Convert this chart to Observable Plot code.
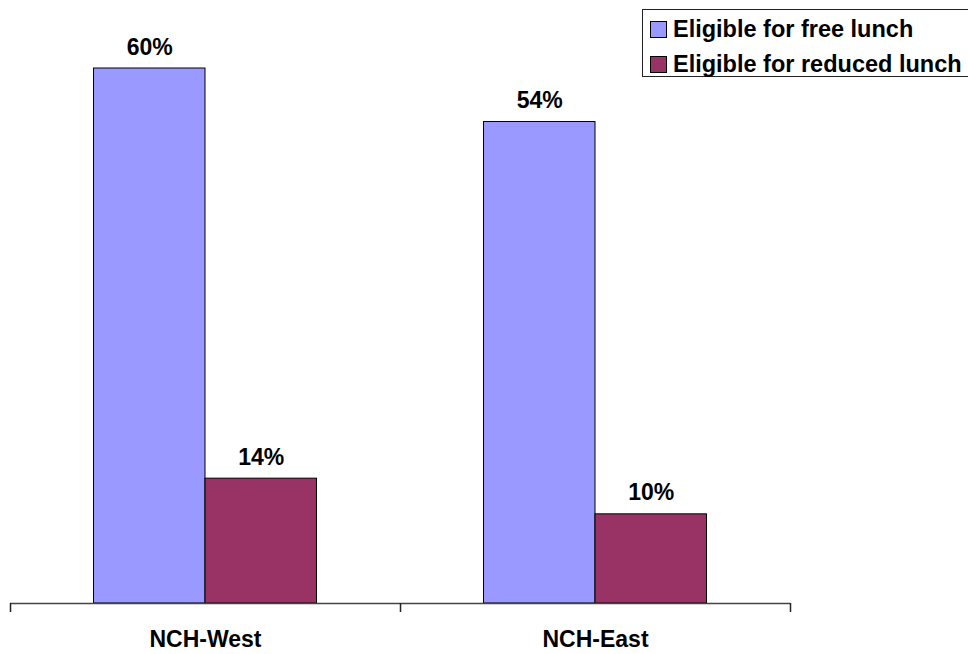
<!DOCTYPE html>
<html>
<head>
<meta charset="utf-8">
<script src="https://cdn.jsdelivr.net/npm/d3@7"></script>
<script src="https://cdn.jsdelivr.net/npm/@observablehq/plot@0.6"></script>
<style>
  html, body { margin: 0; padding: 0; background: #fff; }
  #wrap { position: relative; width: 968px; height: 654px; overflow: hidden; font-family: "Liberation Sans", Arial, sans-serif; }
  #legend { position: absolute; left: 642px; top: 9px; width: 340px; height: 68px; border: 1px solid #222; box-sizing: border-box; background: #fff; }
  .item { position: absolute; left: 7px; height: 24px; display: flex; align-items: center; font-weight: bold; font-size: 23.5px; color: #000; white-space: nowrap; }
  .sw { width: 15px; height: 15px; border: 1px solid #000; margin-right: 6px; box-sizing: content-box; }
</style>
</head>
<body>
<div id="wrap"><div id="chart"></div><div id="legend"></div></div>
<script>
const categories = ["NCH-West", "NCH-East"];
const series = ["Eligible for free lunch", "Eligible for reduced lunch"];
const freeLunch = [0.60, 0.54];
const reducedLunch = [0.14, 0.10];
const colors = ["#9999FF", "#993366"];

const data = [];
categories.forEach((c, i) => {
  data.push({category: c, series: series[0], value: freeLunch[i]});
  data.push({category: c, series: series[1], value: reducedLunch[i]});
});

const W = 968, H = 654;
const mLeft = 10, mRight = 178, mTop = 68, mBottom = 51;
const xBand = d3.scaleBand().domain(categories).range([mLeft, W - mRight]).padding(0);
const bw = xBand.bandwidth();
const sub = d3.scaleBand().domain(series).range([0, bw]).paddingInner(0).paddingOuter(0.749);

const font = '"Liberation Sans", Arial, sans-serif';

const barMarks = series.map((s, k) => Plot.barY(data.filter(d => d.series === s), {
  x: "category", y: "value", fill: colors[k], stroke: "#000", strokeWidth: 1,
  insetLeft: sub(s), insetRight: bw - sub(s) - sub.bandwidth()
}));
const labelMarks = series.map((s, k) => Plot.text(data.filter(d => d.series === s), {
  x: "category", y: "value", text: d => d3.format(".0%")(d.value),
  dx: sub(s) + sub.bandwidth() / 2 - bw / 2, dy: -14, lineAnchor: "bottom",
  fontSize: 23, fontWeight: "bold", fill: "#000"
}));

const chart = Plot.plot({
  width: W, height: H,
  marginLeft: mLeft, marginRight: mRight, marginTop: mTop, marginBottom: mBottom,
  style: {fontFamily: font, background: "#fff", overflow: "visible"},
  x: {domain: categories, padding: 0, axis: null},
  y: {domain: [0, 0.6], axis: null},
  marks: [
    ...barMarks,
    Plot.ruleY([0], {stroke: "#444", strokeWidth: 1.5}),
    Plot.ruleX(categories, {x: d => d, y1: 0, y2: 0, dx: -bw / 2, insetBottom: -9, stroke: "#222", strokeWidth: 1.5}),
    Plot.ruleX([categories[categories.length - 1]], {x: d => d, y1: 0, y2: 0, dx: bw / 2, insetBottom: -9, stroke: "#222", strokeWidth: 1.5}),
    Plot.axisX({tickSize: 0, tickPadding: 27, fontSize: 23, fontWeight: "bold", fill: "#000", label: null}),
    ...labelMarks
  ]
});
document.getElementById("chart").appendChild(chart);

const legend = document.getElementById("legend");
series.forEach((s, k) => {
  const item = document.createElement("div");
  item.className = "item";
  item.style.top = (k === 0 ? 7 : 42) + "px";
  const sw = document.createElement("span");
  sw.className = "sw";
  sw.style.background = colors[k];
  item.appendChild(sw);
  item.appendChild(document.createTextNode(s));
  legend.appendChild(item);
});
</script>
</body>
</html>
